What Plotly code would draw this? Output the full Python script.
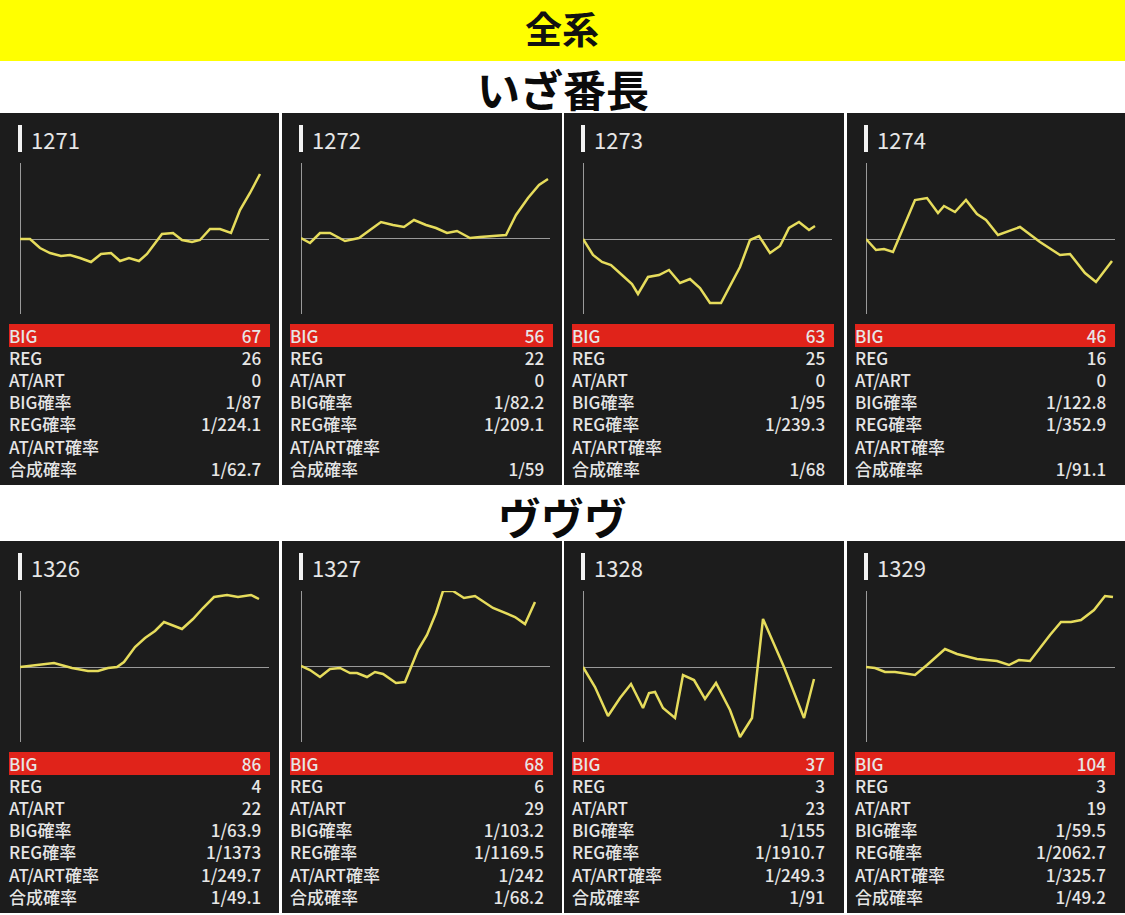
import plotly.graph_objects as go

W = 1125
H = 915
FONT = "Noto Sans CJK JP"

# machine numbers per panel
machines = ["1271", "1272", "1273", "1274", "1326", "1327", "1328", "1329"]

# slump graphs
x_1271 = [0, 10, 20, 30, 41, 50, 60, 71, 81, 91, 100, 109, 119, 127, 142, 153, 162, 172, 180, 190, 200, 211, 220, 230, 240]
y_1271 = [0, 0, -9, -14, -17, -16, -19, -23, -15, -14, -22, -19, -22, -15, 5, 6, -1, -3, -1, 10, 10, 6, 29, 46, 65]
x_1272 = [0, 9, 19, 29, 44, 58, 69, 80, 92, 103, 113, 125, 135, 146, 156, 169, 179, 194, 205, 215, 227, 238, 247]
y_1272 = [0, -5, 5, 5, -3, 0, 8, 16, 13, 11, 18, 13, 10, 5, 7, 0, 1, 2, 3, 23, 40, 53, 59]
x_1273 = [0, 10, 19, 28, 39, 49, 55, 65, 76, 86, 97, 107, 117, 127, 138, 147, 157, 167, 176, 187, 197, 206, 216, 226, 232]
y_1273 = [0, -16, -23, -26, -36, -45, -55, -38, -36, -31, -44, -40, -49, -64, -64, -47, -28, -1, 3, -14, -7, 11, 17, 9, 13]
x_1274 = [0, 10, 18, 27, 49, 61, 72, 78, 89, 100, 111, 120, 132, 154, 174, 194, 204, 219, 230, 246]
y_1274 = [0, -11, -10, -13, 39, 41, 26, 33, 27, 39, 25, 19, 4, 12, -3, -16, -15, -34, -43, -22]
x_1326 = [0, 17, 34, 52, 68, 78, 88, 97, 104, 115, 125, 135, 144, 162, 173, 183, 194, 207, 218, 231, 239]
y_1326 = [0, 2, 4, -1, -4, -4, -1, 0, 5, 20, 29, 36, 45, 38, 48, 59, 70, 72, 70, 72, 68]
x_1327 = [0, 9, 19, 29, 39, 49, 56, 66, 74, 82, 95, 104, 117, 126, 135, 142, 152, 163, 174, 192, 214, 224, 234]
y_1327 = [0, -4, -11, -3, -2, -7, -7, -11, -6, -8, -17, -16, 16, 31, 53, 75, 75, 68, 70, 58, 49, 42, 64]
x_1328 = [0, 12, 25, 37, 48, 60, 66, 72, 80, 92, 100, 111, 122, 133, 147, 157, 169, 180, 201, 221, 231]
y_1328 = [0, -20, -49, -31, -17, -41, -26, -25, -41, -51, -8, -13, -32, -16, -43, -70, -51, 48, 0, -51, -12]
x_1329 = [0, 9, 19, 29, 49, 61, 79, 91, 111, 131, 143, 153, 164, 184, 195, 205, 215, 228, 239, 247]
y_1329 = [0, -1, -5, -5, -8, 2, 18, 13, 8, 6, 2, 7, 6, 32, 45, 45, 47, 57, 71, 70]

slump_x = [x_1271, x_1272, x_1273, x_1274, x_1326, x_1327, x_1328, x_1329]
slump_y = [y_1271, y_1272, y_1273, y_1274, y_1326, y_1327, y_1328, y_1329]

# table under each graph
row_labels = ["BIG", "REG", "AT/ART", "BIG確率", "REG確率", "AT/ART確率", "合成確率"]
big = ["67", "56", "63", "46", "86", "68", "37", "104"]
reg = ["26", "22", "25", "16", "4", "6", "3", "3"]
at_art = ["0", "0", "0", "0", "22", "29", "23", "19"]
big_prob = ["1/87", "1/82.2", "1/95", "1/122.8", "1/63.9", "1/103.2", "1/155", "1/59.5"]
reg_prob = ["1/224.1", "1/209.1", "1/239.3", "1/352.9", "1/1373", "1/1169.5", "1/1910.7", "1/2062.7"]
at_prob = ["", "", "", "", "1/249.7", "1/242", "1/249.3", "1/325.7"]
total_prob = ["1/62.7", "1/59", "1/68", "1/91.1", "1/49.1", "1/68.2", "1/91", "1/49.2"]

banner_title = "全系"
group_titles = ["いざ番長", "ヴヴヴ"]

# panel geometry in pixels
panel_left = [0, 282, 564, 847]
panel_right = [279, 562, 844, 1125]
axis_left = [20, 301, 583, 866]
table_left = [9, 290, 572, 855]
table_right = [270, 553, 834, 1115]
row_top = [113, 541]
row_bottom = [485, 913]
title_y = [88, 516]
# the zero line of the second column sits a pixel higher
y_top = [76, 75, 76, 76, 76, 75, 76, 76]


def px(x):
    return x / W


def py(y):
    return 1 - y / H


def rect(x0, y0, x1, y1, color):
    return dict(type="rect", xref="paper", yref="paper", layer="below",
                x0=px(x0), x1=px(x1), y0=py(y0), y1=py(y1),
                fillcolor=color, line=dict(width=0))


def label(x, y, text, size, color="#e6e6e6", anchor="left", weight="normal"):
    return dict(xref="paper", yref="paper", x=px(x), y=py(y), text=text,
                showarrow=False, xanchor=anchor, yanchor="middle", borderpad=0,
                align=anchor, font=dict(family=FONT, size=size, color=color, weight=weight))


fig = go.Figure()
shapes = [rect(0, 0, W, 61, "#ffff00")]
annotations = [label(W / 2 - 1, 28, banner_title, 37, "#111111", "center", "bold")]
for r in range(2):
    annotations.append(label(W / 2, title_y[r], group_titles[r], 43, "#0a0a0a", "center", "bold"))

layout_axes = {}
for i in range(8):
    col = i % 4
    r = i // 4
    top = row_top[r]
    name = "" if i == 0 else str(i + 1)

    shapes.append(rect(panel_left[col], top, panel_right[col], row_bottom[r], "#1c1c1c"))
    shapes.append(rect(axis_left[col] - 2, top + 12, axis_left[col] + 2, top + 39, "#f2f2f2"))
    shapes.append(rect(table_left[col], top + 211, table_right[col], top + 234, "#e0231a"))
    annotations.append(label(axis_left[col] + 10, top + 26, machines[i], 22))

    # one text block per column, 17px text gives the 22px row pitch
    values = [big[i], reg[i], at_art[i], big_prob[i], reg_prob[i], at_prob[i], total_prob[i]]
    annotations.append(label(table_left[col] - 1, top + 289, "<br>".join(row_labels), 17, weight=500))
    annotations.append(label(table_right[col] - 8, top + 289, "<br>".join(values), 17, anchor="right", weight=500))

    fig.add_trace(go.Scatter(
        x=slump_x[i], y=slump_y[i], mode="lines",
        line=dict(color="#e6dc5c", width=2.5),
        xaxis="x" + name, yaxis="y" + name,
        cliponaxis=False, hoverinfo="skip", showlegend=False,
    ))

    layout_axes["xaxis" + name] = dict(
        domain=[px(axis_left[col]), px(axis_left[col] + 249)],
        anchor="y" + name, range=[0, 249], showgrid=False, showticklabels=False,
        ticks="", zeroline=True, zerolinecolor="#9a9a9a", zerolinewidth=1,
    )
    layout_axes["yaxis" + name] = dict(
        domain=[py(top + 201), py(top + 50)],
        anchor="x" + name, range=[y_top[i] - 151, y_top[i]], showgrid=False, showticklabels=False,
        ticks="", zeroline=True, zerolinecolor="#9a9a9a", zerolinewidth=1,
    )

fig.update_layout(
    width=W, height=H, margin=dict(l=0, r=0, t=0, b=0),
    paper_bgcolor="#ffffff", plot_bgcolor="rgba(0,0,0,0)",
    shapes=shapes, annotations=annotations, showlegend=False,
    **layout_axes,
)

fig.write_html("out.html", config=dict(displayModeBar=False),
               post_script="document.body.style.margin='0';")
